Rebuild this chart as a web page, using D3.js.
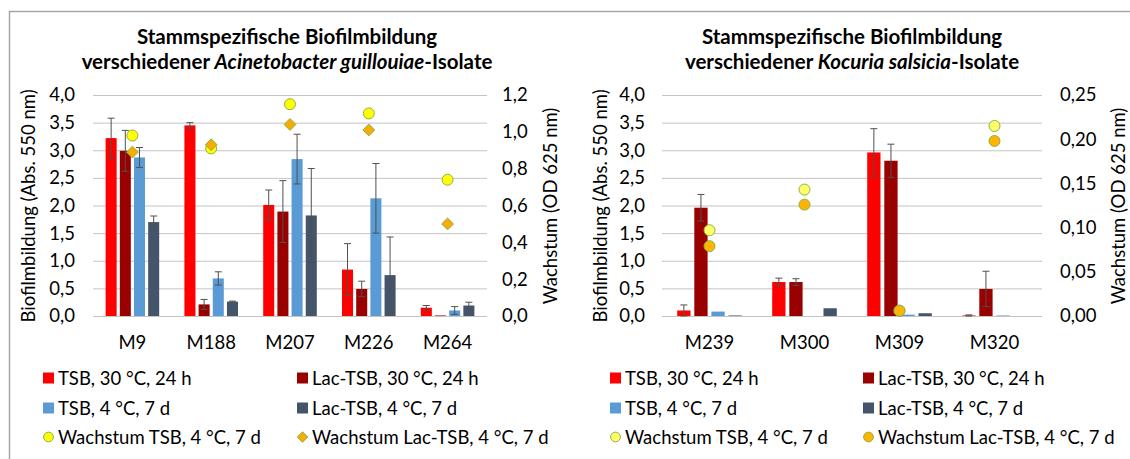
<!DOCTYPE html>
<html><head><meta charset="utf-8">
<script src="https://cdn.jsdelivr.net/npm/d3@7"></script>
<style>
body{margin:0;background:#fff}
text{font-family:Lato, "Noto Sans", sans-serif;fill:#000}
</style></head><body>
<svg id="c" width="1130" height="459"></svg>
<script>
// ---------- DATA ----------
const seriesNames = ["TSB, 30 °C, 24 h","Lac-TSB, 30 °C, 24 h","TSB, 4 °C, 7 d","Lac-TSB, 4 °C, 7 d"];
const growthNames = ["Wachstum TSB, 4 °C, 7 d","Wachstum Lac-TSB, 4 °C, 7 d"];

// Left chart: Acinetobacter guillouiae
const catsA = ["M9","M188","M207","M226","M264"];
const tsb30A     = [3.22,3.45,2.01,0.84,0.15];
const tsb30ErrA  = [0.36,0.05,0.27,0.47,0.04];
const lac30A     = [2.99,0.21,1.89,0.49,0.01];
const lac30ErrA  = [0.37,0.09,0.56,0.14,0.00];
const tsb4A      = [2.87,0.68,2.84,2.13,0.10];
const tsb4ErrA   = [0.18,0.12,0.45,0.63,0.07];
const lac4A      = [1.70,0.26,1.82,0.74,0.19];
const lac4ErrA   = [0.11,0.01,0.85,0.69,0.06];
const growTsbA   = [0.98,0.91,1.15,1.10,0.74];
const growLacA   = [0.89,0.93,1.04,1.01,0.50];
const yTicksA  = [0,0.5,1,1.5,2,2.5,3,3.5,4];
const y2TicksA = [0,0.2,0.4,0.6,0.8,1.0,1.2];

// Right chart: Kocuria salsicia
const catsK = ["M239","M300","M309","M320"];
const tsb30K     = [0.10,0.615,2.96,0.01];
const tsb30ErrK  = [0.10,0.07,0.43,0.01];
const lac30K     = [1.96,0.615,2.81,0.49];
const lac30ErrK  = [0.24,0.06,0.30,0.32];
const tsb4K      = [0.08,0.00,0.025,0.01];
const tsb4ErrK   = [0,0,0,0];
const lac4K      = [0.01,0.14,0.05,0.00];
const lac4ErrK   = [0,0,0,0];
const growTsbK   = [0.097,0.143,0.006,0.215];
const growLacK   = [0.079,0.126,0.006,0.198];
const yTicksK  = [0,0.5,1,1.5,2,2.5,3,3.5,4];
const y2TicksK = [0,0.05,0.10,0.15,0.20,0.25];

// ---------- STYLE ----------
const barColors = ["#FF0000","#990000","#5B9BD5","#44546A"];
const FS = 18.5;
const TFS = 20.5;

const svg = d3.select("#c");
svg.append("rect").attr("width",1130).attr("height",459).attr("fill","#fff");
svg.append("path").attr("d","M9.5,459 V11.5 H1130").attr("fill","none")
   .attr("stroke","#a6a6a6").attr("stroke-width",1.5);

function commaFmt(dec){ return d => d3.format("."+dec+"f")(d).replace(".",","); }

// rotated square (diamond) symbol
const symDiamondSq = {
  draw(ctx, size){ const r = Math.sqrt(size/2);
    ctx.moveTo(0,-r); ctx.lineTo(r,0); ctx.lineTo(0,r); ctx.lineTo(-r,0); ctx.closePath(); }
};

function drawChart(o){
  const g = svg.append("g");
  const x = d3.scaleBand().domain(o.cats).range([o.x0,o.x1]);
  const xi = d3.scaleBand().domain(d3.range(4))
      .range([x.bandwidth()*0.16, x.bandwidth()*0.84]).paddingInner(0.222);
  const y = d3.scaleLinear().domain([0,4]).range([316,95]);
  const y2 = d3.scaleLinear().domain([0,o.y2max]).range([316,95]);

  // grid
  const grid = g.append("g").attr("transform",`translate(${o.x0},0)`)
     .call(d3.axisLeft(y).tickValues(o.yTicks).tickSize(-(o.x1-o.x0)).tickFormat(""));
  grid.select(".domain").remove();
  grid.selectAll("line").attr("stroke","#c4c4c4").attr("stroke-width",1);

  // axes
  const ax = g.append("g").attr("transform",`translate(${o.x0},0)`)
     .call(d3.axisLeft(y).tickValues(o.yTicks).tickSize(0).tickPadding(o.x0-o.yLabR).tickFormat(commaFmt(1)));
  ax.select(".domain").remove();
  ax.selectAll("text").style("font-size",FS+"px").attr("fill","#000").style("font-family","Lato");
  const ax2 = g.append("g").attr("transform",`translate(${o.x1},0)`)
     .call(d3.axisRight(y2).tickValues(o.y2Ticks).tickSize(0).tickPadding(o.y2LabL-o.x1).tickFormat(commaFmt(o.y2dec)));
  ax2.select(".domain").remove();
  ax2.selectAll("text").style("font-size",FS+"px").attr("fill","#000").style("font-family","Lato");
  const axx = g.append("g").attr("transform",`translate(0,316)`)
     .call(d3.axisBottom(x).tickSize(0).tickPadding(20));
  axx.select(".domain").remove();
  axx.selectAll("text").style("font-size",FS+"px").attr("fill","#000").style("font-family","Lato");

  // bars
  o.series.forEach((s,si)=>{
    const gb = g.append("g");
    gb.selectAll("rect").data(s.v).join("rect")
      .attr("x",(d,i)=>x(o.cats[i])+xi(si))
      .attr("width",xi.bandwidth())
      .attr("y",d=>y(d))
      .attr("height",d=>316-y(d))
      .attr("fill",barColors[si]);
  });
  // error bars
  o.series.forEach((s,si)=>{
    const ge = g.append("g").attr("stroke","#505050").attr("stroke-width",1);
    s.v.forEach((d,i)=>{
      const e = s.e[i]; if(!e) return;
      const cx = x(o.cats[i])+xi(si)+xi.bandwidth()/2;
      ge.append("line").attr("x1",cx).attr("x2",cx).attr("y1",y(d+e)).attr("y2",y(Math.max(0,d-e)));
      ge.append("line").attr("x1",cx-3.5).attr("x2",cx+3.5).attr("y1",y(d+e)).attr("y2",y(d+e));
      ge.append("line").attr("x1",cx-3.5).attr("x2",cx+3.5).attr("y1",y(Math.max(0,d-e))).attr("y2",y(Math.max(0,d-e)));
    });
  });
  // growth markers
  o.growth.forEach((s,gi)=>{
    const m = o.markers[gi];
    g.append("g").selectAll("path").data(s).join("path")
      .attr("d", d3.symbol().type(m.type).size(m.size))
      .attr("transform",(d,i)=>`translate(${x(o.cats[i])+x.bandwidth()/2},${y2(d)})`)
      .attr("fill",m.fill).attr("stroke","#8DB04A").attr("stroke-width",1);
  });

  // axis titles
  g.append("text").attr("transform",`translate(${o.t1x},206) rotate(-90)`)
    .attr("text-anchor","middle").attr("dominant-baseline","central")
    .style("font-size",FS+"px").text("Biofilmbildung (Abs. 550 nm)");
  g.append("text").attr("transform",`translate(${o.t2x},206) rotate(-90)`)
    .attr("text-anchor","middle").attr("dominant-baseline","central")
    .style("font-size",FS+"px").text("Wachstum (OD 625 nm)");

  // title
  g.append("text").attr("text-anchor","middle").attr("x",o.tcx).attr("y",44)
    .style("font-size",TFS+"px").style("font-weight","bold")
    .text("Stammspezifische Biofilmbildung");
  const l2 = g.append("text").attr("text-anchor","middle").attr("x",o.tcx).attr("y",69)
     .style("font-size",TFS+"px").style("font-weight","bold");
  l2.append("tspan").text("verschiedener ");
  l2.append("tspan").style("font-style","italic").text(o.species);
  l2.append("tspan").text("-Isolate");

  // legend
  const legItems = [
    {n:seriesNames[0], k:"sq", c:barColors[0]},
    {n:seriesNames[1], k:"sq", c:barColors[1]},
    {n:seriesNames[2], k:"sq", c:barColors[2]},
    {n:seriesNames[3], k:"sq", c:barColors[3]},
    {n:growthNames[0], k:"m", m:o.markers[0]},
    {n:growthNames[1], k:"m", m:o.markers[1]}
  ];
  const rowsY = [378,408,437];
  legItems.forEach((it,i)=>{
    const col = i%2, row = Math.floor(i/2);
    const lx = o.legX[col], ly = rowsY[row];
    if(it.k==="sq"){
      g.append("rect").attr("x",lx).attr("y",ly-5.5).attr("width",11).attr("height",11).attr("fill",it.c);
    } else {
      g.append("path").attr("d",d3.symbol().type(it.m.type).size(it.m.lsize))
        .attr("transform",`translate(${lx+5.5},${ly})`)
        .attr("fill",it.m.fill).attr("stroke","#8DB04A").attr("stroke-width",1);
    }
    g.append("text").attr("x",lx+15).attr("y",ly).attr("dominant-baseline","central")
      .style("font-size",FS+"px").text(it.n);
  });
}

drawChart({
  cats:catsA, x0:93, x1:487, yLabR:75, y2LabL:502, y2max:1.2, y2dec:1,
  yTicks:yTicksA, y2Ticks:y2TicksA,
  series:[{v:tsb30A,e:tsb30ErrA},{v:lac30A,e:lac30ErrA},{v:tsb4A,e:tsb4ErrA},{v:lac4A,e:lac4ErrA}],
  growth:[growTsbA,growLacA],
  markers:[{type:d3.symbolCircle,size:95,lsize:75,fill:"#FFFF00"},{type:symDiamondSq,size:70,lsize:55,fill:"#F5AD00"}],
  t1x:28, t2x:550, tcx:287, species:"Acinetobacter guillouiae", legX:[43,297]
});
drawChart({
  cats:catsK, x0:662, x1:1042, yLabR:645, y2LabL:1060, y2max:0.25, y2dec:2,
  yTicks:yTicksK, y2Ticks:y2TicksK,
  series:[{v:tsb30K,e:tsb30ErrK},{v:lac30K,e:lac30ErrK},{v:tsb4K,e:tsb4ErrK},{v:lac4K,e:lac4ErrK}],
  growth:[growTsbK,growLacK],
  markers:[{type:d3.symbolCircle,size:95,lsize:75,fill:"#FFFF66"},{type:d3.symbolCircle,size:95,lsize:75,fill:"#FFB400"}],
  t1x:600, t2x:1118, tcx:852, species:"Kocuria salsicia", legX:[610,863]
});
</script>
</body></html>
